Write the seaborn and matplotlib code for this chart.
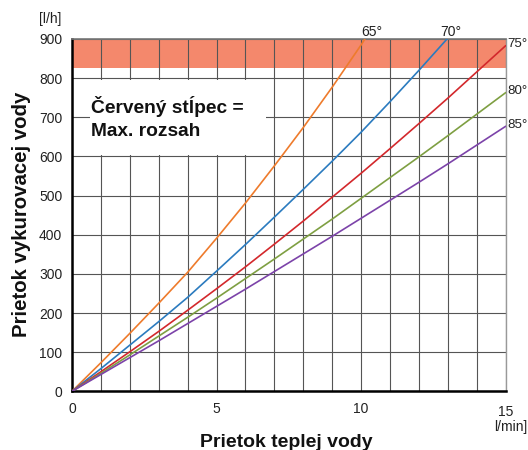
import matplotlib
matplotlib.use("Agg")
import matplotlib.pyplot as plt
import matplotlib.transforms as mtransforms
from matplotlib.patches import Rectangle
import seaborn as sns
import pandas as pd

# ---- data ----
x_65 = [0, 1, 2, 3, 4, 5, 6, 7, 8, 9, 10, 10.13]
y_65 = [0, 73, 148, 225, 304, 391, 481, 576, 674, 777, 885, 900]

x_70 = [0, 1, 2, 3, 4, 5, 6, 7, 8, 9, 10, 11, 12, 12.97]
y_70 = [0, 58, 118, 178, 240, 307, 375, 445, 516, 588, 662, 740, 820, 900]

x_75 = list(range(16))
y_75 = [0, 50, 101, 153, 207, 262, 318, 376, 435, 496, 557, 620, 684, 749, 816, 883]

x_80 = list(range(16))
y_80 = [0, 46, 93, 141, 189, 238, 288, 338, 389, 440, 493, 546, 599, 653, 708, 763]

x_85 = list(range(16))
y_85 = [0, 43, 86, 129, 173, 217, 261, 306, 351, 396, 442, 488, 534, 581, 629, 677]

series_names = ["65°", "70°", "75°", "80°", "85°"]
series_colors = ["#EE7B2C", "#2B7BBF", "#D3282C", "#7E9F42", "#7C43A9"]

band_low, band_high = 826, 900
x_tick_labels = ["0", "5", "10", "15"]
y_ticks = list(range(0, 1000, 100))

# ---- build long table ----
frames = []
for name, xs, ys in zip(series_names, [x_65, x_70, x_75, x_80, x_85],
                        [y_65, y_70, y_75, y_80, y_85]):
    frames.append(pd.DataFrame({"x": xs, "y": ys, "temp": name}))
df = pd.concat(frames, ignore_index=True)

sns.set_style("white")
plt.rcParams["font.family"] = ["Liberation Sans", "DejaVu Sans"]

fig = plt.figure(figsize=(5.28, 4.5), dpi=100)
ax = fig.add_axes([72 / 528, 1 - 391.3 / 450, (505.7 - 72) / 528, (391.3 - 39) / 450])

# red band
ax.axhspan(band_low, band_high, color="#F4886C", zorder=0.2, lw=0)

sns.lineplot(data=df, x="x", y="y", hue="temp", palette=dict(zip(series_names, series_colors)),
             legend=False, sort=False, estimator=None, lw=1.2, ax=ax, zorder=3)

ax.set_xlim(0, 15)
ax.set_ylim(0, 900)
ax.set_xticks([0, 5, 10, 15])
ax.set_xticklabels(x_tick_labels)
ax.set_xticks(range(16), minor=True)
ax.set_yticks(y_ticks)
ax.set_yticklabels([str(v) for v in y_ticks])
ax.set_axisbelow(True)
ax.grid(True, which="both", color="#555555", lw=0.8)
ax.tick_params(axis="x", which="both", length=0, pad=7.5, labelsize=10, colors="#222222")
ax.tick_params(axis="y", length=5, width=0.8, color="#555555", pad=2, labelsize=10,
               labelcolor="#222222")
ax.set_xlabel("")
ax.set_ylabel("")

# shift "15" slightly down
lbl15 = ax.get_xticklabels()[-1]
lbl15.set_transform(lbl15.get_transform() + mtransforms.ScaledTranslation(0, -3 / 100, fig.dpi_scale_trans))

for s in ["left", "bottom"]:
    ax.spines[s].set_color("black")
    ax.spines[s].set_linewidth(1.8)
ax.spines["top"].set_color("#777777")
ax.spines["top"].set_linewidth(1.2)
ax.spines["right"].set_color("#999999")
ax.spines["right"].set_linewidth(1.0)

# white box behind annotation
ax.add_patch(Rectangle((0.62, 604), 6.1, 192, facecolor="white", edgecolor="none", zorder=1))
ax.text(0.65, 711, "Červený stĺpec =", fontsize=13.8, fontweight="bold", va="baseline",
        ha="left", color="#111111", zorder=4)
ax.text(0.65, 651, "Max. rozsah", fontsize=13.8, fontweight="bold", va="baseline",
        ha="left", color="#111111", zorder=4)

# series labels
ax.text(10.36, 919, "65°", fontsize=10, ha="center", va="center", clip_on=False, color="#222222")
ax.text(13.1, 919, "70°", fontsize=10, ha="center", va="center", clip_on=False, color="#222222")
ax.text(15.05, 888, "75°", fontsize=9.6, ha="left", va="center", clip_on=False, color="#222222")
ax.text(15.05, 768, "80°", fontsize=9.6, ha="left", va="center", clip_on=False, color="#222222")
ax.text(15.05, 680, "85°", fontsize=9.6, ha="left", va="center", clip_on=False, color="#222222")

# unit labels
fig.text(50 / 528, 1 - 19 / 450, "[l/h]", fontsize=10, ha="center", va="center", color="#222222")
fig.text(494 / 528, 1 - 427 / 450, "l/min]", fontsize=10, ha="left", va="center", color="#222222")

# axis titles
fig.text(286 / 528, 1 - 446.7 / 450, "Prietok teplej vody", fontsize=14, fontweight="bold",
         ha="center", va="baseline", color="#111111")
fig.text(21.5 / 528, 1 - 214 / 450, "Prietok vykurovacej vody", fontsize=14.7, fontweight="bold",
         ha="center", va="center", rotation=90, color="#111111")

fig.savefig("out.png", dpi=100)
